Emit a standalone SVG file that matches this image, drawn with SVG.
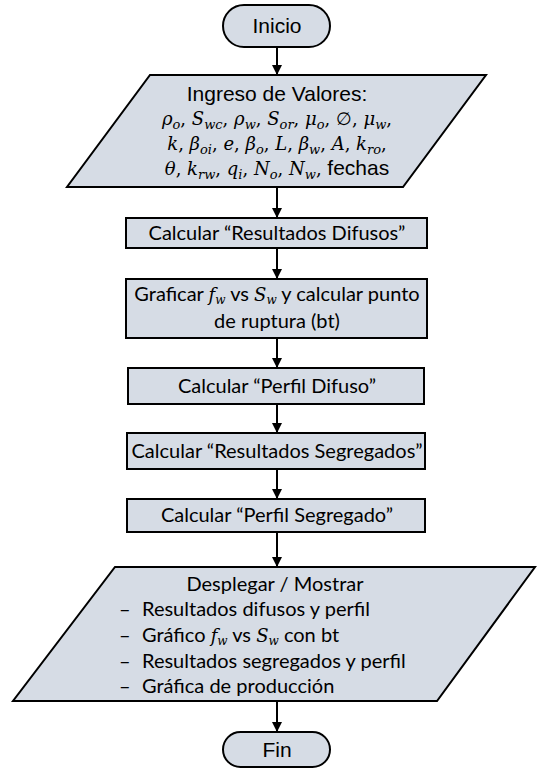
<svg xmlns="http://www.w3.org/2000/svg" width="541" height="769" viewBox="0 0 541 769">
<style>
.shape{fill:#d6dce5;stroke:#000;stroke-width:2}
.ar{font-family:"Liberation Sans",Arial,sans-serif;font-size:21px;fill:#000;text-anchor:middle}
.ca{font-family:Lato,"Open Sans",sans-serif;font-size:20px;fill:#000;text-anchor:middle}
.cl{font-family:Lato,"Open Sans",sans-serif;font-size:20px;fill:#000}
.mt{font-family:"DejaVu Serif","Liberation Serif",serif;font-size:18px;fill:#000;text-anchor:middle}
.mi{font-style:italic}
.sb{font-size:13px;font-style:italic}
.mf{font-family:"DejaVu Serif","Liberation Serif",serif;font-style:italic;font-size:18px}
.ms{font-family:"DejaVu Serif","Liberation Serif",serif;font-style:italic;font-size:12px}
.ln{stroke:#000;stroke-width:2;fill:none}
</style>
<defs>
<marker id="ah" markerWidth="10" markerHeight="10" refX="9" refY="5" orient="auto" markerUnits="userSpaceOnUse">
<path d="M0,0 L10,5 L0,10 Z" fill="#000"/>
</marker>
</defs>
<g id="connectors">
<line class="ln" x1="277" y1="47" x2="277" y2="74" marker-end="url(#ah)"/>
<line class="ln" x1="277" y1="187" x2="277" y2="217" marker-end="url(#ah)"/>
<line class="ln" x1="277" y1="248" x2="277" y2="278" marker-end="url(#ah)"/>
<line class="ln" x1="277" y1="338" x2="277" y2="367" marker-end="url(#ah)"/>
<line class="ln" x1="277" y1="404" x2="277" y2="432" marker-end="url(#ah)"/>
<line class="ln" x1="277" y1="469" x2="277" y2="498" marker-end="url(#ah)"/>
<line class="ln" x1="277" y1="532" x2="277" y2="566" marker-end="url(#ah)"/>
<line class="ln" x1="277" y1="701" x2="277" y2="731" marker-end="url(#ah)"/>
</g>
<g id="inicio">
<rect class="shape" x="223" y="5" width="107" height="42" rx="21" ry="21"/>
<text class="ar" x="277" y="33">Inicio</text>
</g>
<g id="ingreso">
<polygon class="shape" points="150,75 486,75 403,187 67,187"/>
<text class="ar" x="277" y="101">Ingreso de Valores:</text>
<text class="mt" x="277" y="125"><tspan class="mi">ρ</tspan><tspan class="sb" dy="4">o</tspan><tspan dy="-4">, </tspan><tspan class="mi">S</tspan><tspan class="sb" dy="4">wc</tspan><tspan dy="-4">, </tspan><tspan class="mi">ρ</tspan><tspan class="sb" dy="4">w</tspan><tspan dy="-4">, </tspan><tspan class="mi">S</tspan><tspan class="sb" dy="4">or</tspan><tspan dy="-4">, </tspan><tspan class="mi">μ</tspan><tspan class="sb" dy="4">o</tspan><tspan dy="-4">, ∅, </tspan><tspan class="mi">μ</tspan><tspan class="sb" dy="4">w</tspan><tspan dy="-4">,</tspan></text>
<text class="mt" x="277" y="150"><tspan class="mi">k</tspan><tspan>, </tspan><tspan class="mi">β</tspan><tspan class="sb" dy="4">oi</tspan><tspan dy="-4">, </tspan><tspan class="mi">e</tspan><tspan>, </tspan><tspan class="mi">β</tspan><tspan class="sb" dy="4">o</tspan><tspan dy="-4">, </tspan><tspan class="mi">L</tspan><tspan>, </tspan><tspan class="mi">β</tspan><tspan class="sb" dy="4">w</tspan><tspan dy="-4">, </tspan><tspan class="mi">A</tspan><tspan>, </tspan><tspan class="mi">k</tspan><tspan class="sb" dy="4">ro</tspan><tspan dy="-4">,</tspan></text>
<text class="mt" x="277" y="175"><tspan class="mi">θ</tspan><tspan>, </tspan><tspan class="mi">k</tspan><tspan class="sb" dy="4">rw</tspan><tspan dy="-4">, </tspan><tspan class="mi">q</tspan><tspan class="sb" dy="4">i</tspan><tspan dy="-4">, </tspan><tspan class="mi">N</tspan><tspan class="sb" dy="4">o</tspan><tspan dy="-4">, </tspan><tspan class="mi">N</tspan><tspan class="sb" dy="4">w</tspan><tspan dy="-4">, </tspan><tspan font-family="Liberation Sans, Arial, sans-serif" font-size="21px">fechas</tspan></text>
</g>
<g id="resultados-difusos">
<rect class="shape" x="126" y="218" width="301" height="30"/>
<text class="ca" x="277" y="240">Calcular “Resultados Difusos”</text>
</g>
<g id="graficar">
<rect class="shape" x="126" y="279" width="301" height="59"/>
<text class="ca" x="277" y="301">Graficar <tspan class="mf">f</tspan><tspan class="ms" dy="3">w</tspan><tspan dy="-3"> vs </tspan><tspan class="mf">S</tspan><tspan class="ms" dy="3">w</tspan><tspan dy="-3"> y calcular punto</tspan></text>
<text class="ca" x="277" y="328">de ruptura (bt)</text>
</g>
<g id="perfil-difuso">
<rect class="shape" x="128" y="368" width="296" height="36"/>
<text class="ca" x="277" y="393">Calcular “Perfil Difuso”</text>
</g>
<g id="resultados-segregados">
<rect class="shape" x="127" y="433" width="298" height="36"/>
<text class="ca" x="277" y="458">Calcular “Resultados Segregados”</text>
</g>
<g id="perfil-segregado">
<rect class="shape" x="127" y="499" width="298" height="33"/>
<text class="ca" x="277" y="522">Calcular “Perfil Segregado”</text>
</g>
<g id="desplegar">
<polygon class="shape" points="115,567 535,567 437,701 13,701"/>
<text class="ca" x="275" y="591">Desplegar / Mostrar</text>
<text class="cl" x="119" y="616">–</text><text class="cl" x="142" y="616">Resultados difusos y perfil</text>
<text class="cl" x="119" y="642">–</text><text class="cl" x="142" y="642">Gráfico <tspan class="mf">f</tspan><tspan class="ms" dy="3">w</tspan><tspan dy="-3"> vs </tspan><tspan class="mf">S</tspan><tspan class="ms" dy="3">w</tspan><tspan dy="-3"> con bt</tspan></text>
<text class="cl" x="119" y="668">–</text><text class="cl" x="142" y="668">Resultados segregados y perfil</text>
<text class="cl" x="119" y="693">–</text><text class="cl" x="142" y="693">Gráfica de producción</text>
</g>
<g id="fin">
<rect class="shape" x="223" y="732" width="107" height="35" rx="17.5" ry="17.5"/>
<text class="ar" x="277" y="757">Fin</text>
</g>
</svg>
